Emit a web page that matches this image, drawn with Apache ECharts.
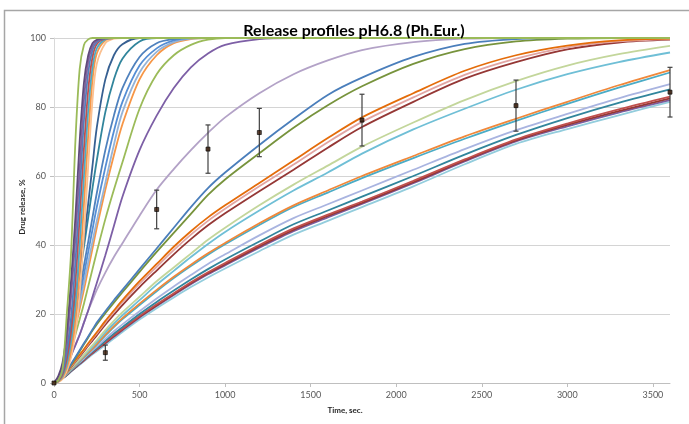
<!DOCTYPE html>
<html>
<head>
<meta charset="utf-8">
<title>Release profiles pH6.8 (Ph.Eur.)</title>
<script src="https://cdn.jsdelivr.net/npm/echarts@6/dist/echarts.min.js"></script>
<style>
  html, body { margin: 0; padding: 0; background: #ffffff; }
  #chart { width: 689px; height: 424px; }
</style>
</head>
<body>
<div id="chart"></div>
<script>
// Sampling times (s) shared by every simulated release profile
const releaseTimes = [0, 25, 50, 75, 100, 125, 150, 175, 200, 225, 250, 300, 350, 400, 500, 600, 700, 800, 900, 1000, 1200, 1400, 1600, 1800, 2100, 2400, 2700, 3000, 3300, 3600];

// Simulated profiles, drug released (%)
const fastGreen   = [0, 0.8, 4, 20, 38, 70, 91, 98, 99.6, 100, 100, 100, 100, 100, 100, 100, 100, 100, 100, 100, 100, 100, 100, 100, 100, 100, 100, 100, 100, 100];
const fastA       = [0, 2, 6, 15, 30, 48, 70, 87, 95, 98.5, 99.5, 100, 100, 100, 100, 100, 100, 100, 100, 100, 100, 100, 100, 100, 100, 100, 100, 100, 100, 100];
const fastB       = [0, 1.3, 4.5, 12, 25, 42, 62, 82, 93, 97.6, 99.2, 100, 100, 100, 100, 100, 100, 100, 100, 100, 100, 100, 100, 100, 100, 100, 100, 100, 100, 100];
const fastC       = [0, 1, 3.2, 9, 19, 35, 55, 76, 90, 96.5, 98.8, 99.9, 100, 100, 100, 100, 100, 100, 100, 100, 100, 100, 100, 100, 100, 100, 100, 100, 100, 100];
const fastD       = [0, 0.7, 2.5, 7, 15, 29, 48, 68, 85, 94.5, 98.2, 99.8, 100, 100, 100, 100, 100, 100, 100, 100, 100, 100, 100, 100, 100, 100, 100, 100, 100, 100];
const fastE       = [0, 0.5, 2, 5.5, 12, 23, 40, 60, 79, 91.5, 97, 99.6, 100, 100, 100, 100, 100, 100, 100, 100, 100, 100, 100, 100, 100, 100, 100, 100, 100, 100];
const fastF       = [0, 0.4, 1.6, 4.5, 9.5, 18.5, 33, 52, 72, 88, 95.5, 99.3, 100, 100, 100, 100, 100, 100, 100, 100, 100, 100, 100, 100, 100, 100, 100, 100, 100, 100];
const fastG       = [0, 0.3, 1.2, 3.5, 7.5, 14.5, 26, 43, 63, 82, 92.5, 98.5, 99.8, 100, 100, 100, 100, 100, 100, 100, 100, 100, 100, 100, 100, 100, 100, 100, 100, 100];
const midA        = [0, 1.5, 4.5, 10, 17, 25, 33, 42, 52, 63, 74, 88, 95, 98.2, 100, 100, 100, 100, 100, 100, 100, 100, 100, 100, 100, 100, 100, 100, 100, 100];
const midB        = [0, 1.5, 4.2, 9.5, 16, 23.5, 31.5, 39.5, 48, 56.5, 64.5, 78.5, 88, 94, 99, 100, 100, 100, 100, 100, 100, 100, 100, 100, 100, 100, 100, 100, 100, 100];
const midC        = [0, 1, 3.3, 8, 14, 20.5, 27, 34, 41, 48, 55, 67.5, 77.5, 85.5, 94.5, 98.5, 99.7, 100, 100, 100, 100, 100, 100, 100, 100, 100, 100, 100, 100, 100];
const midD        = [0, 1, 3, 7.5, 13, 19, 25, 31.5, 38, 44.5, 51, 62.5, 73, 81.5, 92, 97, 99.3, 100, 100, 100, 100, 100, 100, 100, 100, 100, 100, 100, 100, 100];
const midE        = [0, 1, 3, 7, 12, 17.5, 23, 29, 35, 41, 47, 58, 69, 78.5, 90, 96, 98.8, 99.8, 100, 100, 100, 100, 100, 100, 100, 100, 100, 100, 100, 100];
const midF        = [0, 1, 3, 6.5, 11, 16, 21.5, 27, 33, 39, 45, 56, 66, 75, 88, 95, 98.5, 99.7, 100, 100, 100, 100, 100, 100, 100, 100, 100, 100, 100, 100];
const midG        = [0, 1, 3, 6, 10, 14, 18.5, 23, 28, 33, 38, 47.5, 56, 64, 79.5, 89.5, 95, 98, 99.5, 100, 100, 100, 100, 100, 100, 100, 100, 100, 100, 100];
const midH        = [0, 1, 2.5, 5, 8, 11, 14, 17.5, 21, 25, 29, 37, 45.5, 54, 67.5, 77.5, 85.5, 91.5, 95.5, 98, 99.7, 100, 100, 100, 100, 100, 100, 100, 100, 100];
const lavender    = [0, 1, 2.5, 5, 8, 11, 14, 17.5, 21, 24, 27, 32, 36.5, 40.5, 48.5, 56, 62, 67.5, 72.5, 77, 84, 89.5, 93.5, 96.5, 98.8, 99.8, 100, 100, 100, 100];
const slowBlue    = [0, 0.8, 2, 3.5, 5.5, 7.5, 9.5, 11.5, 13.5, 15.5, 17.5, 20.8, 24, 27, 33, 39, 45, 51, 56.5, 61, 69, 76.5, 83.5, 88.5, 94.5, 98.3, 99.7, 100, 100, 100];
const slowOlive   = [0, 0.8, 2, 3.5, 5.3, 7.2, 9.2, 11.2, 13.2, 15.2, 17, 20.2, 23.3, 26.3, 32.2, 38, 43.5, 49, 54.5, 59, 66.6, 74, 80.5, 86, 92.5, 96.8, 99, 99.8, 100, 100];
const slowOrange  = [0, 0.6, 1.8, 3.2, 5, 6.6, 8.2, 9.8, 11.5, 13.1, 14.7, 18, 21, 24, 29.5, 34.5, 39.5, 44, 48, 51.5, 58, 64.5, 71, 77, 84, 90.5, 95, 97.8, 99.3, 99.8];
const slowPink    = [0, 0.6, 1.8, 3.1, 4.8, 6.4, 8, 9.6, 11.2, 12.8, 14.3, 17.5, 20.5, 23.4, 28.8, 33.7, 38.5, 43, 47, 50.5, 57, 63.3, 69.8, 75.7, 82.8, 89.3, 94, 97.3, 99, 99.7];
const slowMaroon  = [0, 0.6, 1.7, 3, 4.6, 6.2, 7.7, 9.2, 10.8, 12.3, 13.8, 16.9, 19.8, 22.6, 27.8, 32.6, 37.3, 41.7, 45.7, 49.2, 55.6, 61.8, 68.2, 74.2, 81.5, 88.2, 93, 96.7, 98.7, 99.5];
const slowLime    = [0, 0.6, 1.7, 2.9, 4.3, 5.6, 6.9, 8.2, 9.6, 11, 12.4, 15.3, 18, 20.5, 25, 29.5, 33.5, 37.5, 41.5, 45, 51.5, 57.5, 63, 68.5, 75.5, 82, 87.5, 92, 95.3, 97.7];
const slowSky     = [0, 0.6, 1.6, 2.8, 4.2, 5.4, 6.6, 7.9, 9.2, 10.5, 11.9, 14.7, 17.2, 19.6, 24, 28.5, 32.5, 36.5, 40.3, 43.8, 50, 55.8, 61, 66.5, 73.5, 79.5, 85, 89.5, 93, 95.8];
const slowAmber   = [0, 0.5, 1.5, 2.7, 4, 5.2, 6.4, 7.6, 8.8, 10, 11.3, 14, 16.5, 18.8, 23, 27, 30.8, 34.3, 37.6, 40.6, 46.3, 51.5, 55.8, 60, 65.8, 71.5, 76.6, 81.5, 86.3, 90.7];
const slowCyan    = [0, 0.5, 1.5, 2.6, 3.9, 5.1, 6.3, 7.5, 8.7, 9.9, 11.1, 13.7, 16.2, 18.5, 22.6, 26.6, 30.4, 33.9, 37.2, 40.2, 45.8, 51, 55.2, 59.4, 65.2, 70.8, 76, 80.9, 85.6, 90];
const slowPeri    = [0, 0.5, 1.5, 2.5, 3.8, 4.9, 6, 7.1, 8.3, 9.4, 10.5, 12.8, 15, 17, 20.8, 24.5, 28, 31.3, 34.5, 37.3, 42.8, 47.8, 51.8, 55.8, 61.8, 67.8, 73.3, 78, 82.5, 86.6];
const slowTeal    = [0, 0.5, 1.4, 2.4, 3.6, 4.7, 5.8, 6.9, 8, 9.1, 10.1, 12.2, 14.3, 16.2, 20, 23.5, 26.8, 30, 33, 35.8, 41, 46, 50, 54, 60, 66.2, 71.9, 76.8, 81.2, 85.1];
const slowRed     = [0, 0.5, 1.4, 2.4, 3.5, 4.6, 5.7, 6.7, 7.8, 8.8, 9.8, 11.8, 13.8, 15.7, 19.4, 22.8, 26, 29.2, 32.1, 34.8, 40, 44.8, 48.8, 52.6, 58.6, 64.8, 70.6, 75.2, 79.3, 83];
const slowBrick   = [0, 0.5, 1.4, 2.3, 3.5, 4.5, 5.6, 6.6, 7.7, 8.7, 9.7, 11.6, 13.6, 15.5, 19.2, 22.5, 25.7, 28.9, 31.8, 34.4, 39.6, 44.4, 48.4, 52.2, 58.2, 64.5, 70.3, 74.8, 78.8, 82.5];
const slowPurple  = [0, 0.5, 1.4, 2.3, 3.4, 4.5, 5.5, 6.5, 7.6, 8.6, 9.6, 11.5, 13.4, 15.3, 19, 22.3, 25.5, 28.6, 31.5, 34.1, 39.2, 44, 48, 51.9, 57.9, 64.2, 70, 74.4, 78.4, 82];
const slowIce     = [0, 0.5, 1.4, 2.3, 3.3, 4.3, 5.3, 6.3, 7.3, 8.3, 9.2, 11, 12.9, 14.8, 18.4, 21.7, 24.8, 27.8, 30.6, 33.2, 38.2, 43, 47, 51, 57, 63.4, 69.3, 73.6, 77.6, 81.5];

// Measured dissolution: mean and standard deviation (%)
const sampleTimes = [0, 300, 600, 900, 1200, 1800, 2700, 3600];
const meanRelease = [0, 8.8, 50.3, 67.8, 72.6, 76.2, 80.4, 84.3];
const sdRelease   = [0, 2.2, 5.6, 7, 7, 7.5, 7.4, 7.2];

// Axis ticks
const timeTicks = [0, 500, 1000, 1500, 2000, 2500, 3000, 3500];

// Line colour for each profile (drawing order)
const profiles = [
  [slowIce, '#93CDDD'], [slowPurple, '#7B5EA0'], [slowBrick, '#953735'], [slowRed, '#C0504D'],
  [slowTeal, '#31859C'], [slowPeri, '#A9B4E0'], [slowCyan, '#4BACC6'], [slowAmber, '#F0883A'],
  [slowSky, '#6FBFD6'], [slowLime, '#C3D69B'], [slowMaroon, '#953735'], [slowPink, '#E2A5A3'],
  [slowOrange, '#E46C0A'], [slowOlive, '#77933C'], [slowBlue, '#4A7EBB'],
  [lavender, '#B3A2C7'], [midH, '#7D5FA6'], [midG, '#9BBB59'], [midF, '#F79646'],
  [midE, '#95B3D7'], [midD, '#558ED5'], [midC, '#4F81BD'], [midB, '#31859C'], [midA, '#376092'],
  [fastG, '#FAC090'], [fastF, '#F79646'], [fastE, '#4BACC6'], [fastD, '#C0504D'],
  [fastC, '#4F81BD'], [fastB, '#8064A2'], [fastA, '#604A7B'], [fastGreen, '#9BBB59']
];

const chart = echarts.init(document.getElementById('chart'), null, { renderer: 'canvas' });

const lineSeries = profiles.map(function (p, i) {
  return {
    name: 'profile' + (i + 1),
    type: 'line',
    data: releaseTimes.map(function (t, k) { return [t, p[0][k]]; }),
    smooth: 0.3,
    showSymbol: false,
    silent: true,
    lineStyle: { color: p[1], width: 1.8 },
    z: 2
  };
});

const errorSeries = {
  type: 'custom',
  name: 'sd',
  data: sampleTimes.map(function (t, i) { return [t, meanRelease[i] - sdRelease[i], meanRelease[i] + sdRelease[i]]; }),
  renderItem: function (params, api) {
    const lo = api.coord([api.value(0), api.value(1)]);
    const hi = api.coord([api.value(0), api.value(2)]);
    if (hi[1] === lo[1]) return null;
    const w = 2.5;
    const st = { stroke: '#404040', lineWidth: 1.2 };
    return {
      type: 'group',
      children: [
        { type: 'line', shape: { x1: lo[0], y1: lo[1], x2: hi[0], y2: hi[1] }, style: st },
        { type: 'line', shape: { x1: lo[0] - w, y1: lo[1], x2: lo[0] + w, y2: lo[1] }, style: st },
        { type: 'line', shape: { x1: hi[0] - w, y1: hi[1], x2: hi[0] + w, y2: hi[1] }, style: st }
      ]
    };
  },
  z: 5
};

const meanSeries = {
  type: 'scatter',
  name: 'mean',
  data: sampleTimes.map(function (t, i) { return [t, meanRelease[i]]; }),
  symbol: 'rect',
  symbolSize: 4,
  itemStyle: { color: '#3a1a08', borderColor: '#000', borderWidth: 0.8 },
  z: 6
};

chart.setOption({
  animation: false,
  backgroundColor: '#ffffff',
  title: {
    text: 'Release profiles pH6.8 (Ph.Eur.)',
    left: 349,
    textAlign: 'center',
    top: 18,
    textStyle: { fontFamily: 'Lato', fontWeight: 'bold', fontSize: 16, color: '#000000' }
  },
  grid: { left: 54, top: 38, width: 616, height: 345, containLabel: false },
  xAxis: {
    type: 'value',
    min: 0,
    max: 3600,
    interval: 500,
    axisLine: { show: true, lineStyle: { color: '#BFBFBF', width: 1 } },
    axisTick: { show: true, length: 4, lineStyle: { color: '#BFBFBF' }, customValues: timeTicks },
    axisLabel: {
      customValues: timeTicks,
      formatter: function (v) { return String(v); },
      color: '#595959', fontFamily: 'Lato', fontSize: 9, margin: 8
    },
    splitLine: { show: false }
  },
  yAxis: {
    type: 'value',
    min: 0,
    max: 100,
    interval: 20,
    axisLine: { show: true, lineStyle: { color: '#D9D9D9', width: 1 } },
    axisTick: { show: true, length: 4, inside: false, lineStyle: { color: '#BFBFBF' } },
    axisLabel: { color: '#595959', fontFamily: 'Lato', fontSize: 9, margin: 8 },
    splitLine: { show: true, lineStyle: { color: '#D4D4D4', width: 1 } }
  },
  graphic: [
    {
      type: 'rect',
      shape: { x: 4.5, y: 10.5, width: 720, height: 440 },
      style: { fill: 'none', stroke: '#A6A6A6', lineWidth: 1.5 },
      silent: true,
      z: 0
    },
    {
      type: 'text',
      x: 345,
      y: 410,
      style: { text: 'Time, sec.', fontFamily: 'Lato', fontWeight: 'bold', fontSize: 8, fill: '#262626', align: 'center', verticalAlign: 'middle' }
    },
    {
      type: 'text',
      x: 22,
      y: 207,
      rotation: Math.PI / 2,
      style: { text: 'Drug release, %', fontFamily: 'Lato', fontWeight: 'bold', fontSize: 8, fill: '#262626', align: 'center', verticalAlign: 'middle' }
    }
  ],
  series: lineSeries.concat([errorSeries, meanSeries])
});
</script>
</body>
</html>
